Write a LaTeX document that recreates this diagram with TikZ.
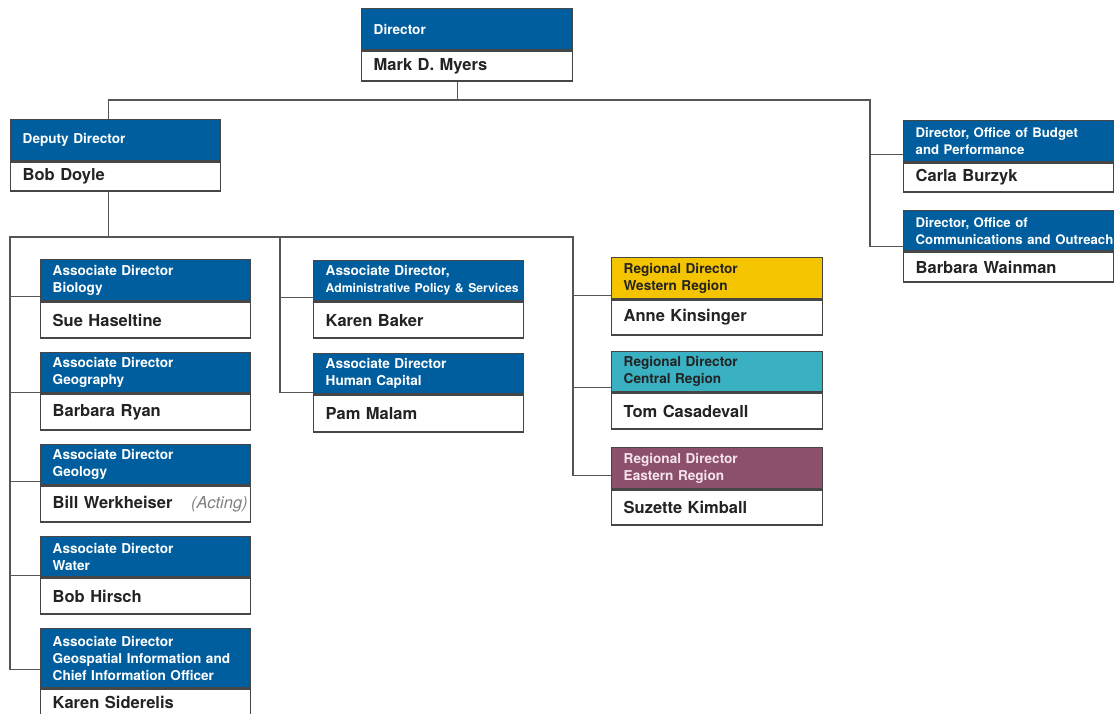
\documentclass[tikz,border=0pt]{standalone}
\usepackage{fontspec}
\setmainfont{TeX Gyre Heros}
\definecolor{uBlue}{RGB}{0,94,158}
\definecolor{uYellow}{RGB}{245,196,0}
\definecolor{uTeal}{RGB}{58,176,195}
\definecolor{uPurple}{RGB}{140,80,108}
\definecolor{boxline}{RGB}{70,70,70}
\definecolor{connline}{RGB}{85,85,85}
\definecolor{darktext}{RGB}{35,35,35}
\definecolor{pinktext}{RGB}{245,228,238}
\newcommand\hdrfont{\fontsize{13.6}{17}\selectfont\bfseries\hyphenpenalty=10000\exhyphenpenalty=10000}
\newcommand\namefont{\fontsize{16.5}{20}\selectfont\bfseries}
\newcommand\orgbox[9]{%
  \pgfmathsetmacro\obtw{#4-24}%
  \node[hdr,#7,minimum width=#4pt,minimum height=#5pt,text width=\obtw pt] (#1h) at (#2,#3) {#8};
  \node[namebox,minimum width=#4pt,minimum height=#6pt,text width=\obtw pt] (#1n) at (#1h.south west) {#9};
}
\tikzset{
  hdr/.style={anchor=north west, inner ysep=0pt, inner xsep=12pt, align=left,
    font=\hdrfont, text=white, fill=uBlue, draw=boxline, line width=1.4pt},
  hyellow/.style={fill=uYellow, text=darktext},
  hteal/.style={fill=uTeal, text=darktext},
  hpurple/.style={fill=uPurple, text=pinktext},
  hnarrow/.style={inner xsep=9pt},
  namebox/.style={anchor=north west, inner ysep=0pt, inner xsep=12pt, align=left,
    font=\namefont, text=darktext, fill=white, draw=boxline, line width=1.4pt},
  conn/.style={draw=connline, line width=1.4pt}
}
\begin{document}
\begin{tikzpicture}[x=1pt,y=-1pt]
\useasboundingbox[fill=white] (0,0) rectangle (1115,713);
% boxes
\orgbox{dir}{361}{8}{211}{41}{30}{}{Director}{Mark D. Myers}
\orgbox{dep}{10}{119}{210}{41}{29}{}{Deputy Director}{Bob Doyle}
\orgbox{bud}{903}{120}{210}{41}{29}{hnarrow}{\fontsize{13.2}{16.5}\selectfont\mbox{Director, Office of Budget}\\ \fontsize{13.2}{16.5}\selectfont and Performance}{Carla Burzyk}
\orgbox{com}{903}{210}{210}{40}{30}{hnarrow}{\fontsize{13.2}{16.5}\selectfont Director, Office of\\ \fontsize{13.2}{16.5}\selectfont\mbox{Communications and Outreach}}{Barbara Wainman}
\orgbox{bio}{40}{259}{210}{41}{36}{}{Associate Director\\Biology}{Sue Haseltine}
\orgbox{geo}{40}{352}{210}{40}{36}{}{Associate Director\\Geography}{Barbara Ryan}
\orgbox{gel}{40}{444}{210}{40}{36}{}{Associate Director\\Geology}{Bill Werkheiser\hfill{\mdseries\itshape\color{gray}(Acting)}\hspace*{-9pt}}
\orgbox{wat}{40}{536}{210}{40}{36}{}{Associate Director\\Water}{Bob Hirsch}
\orgbox{gis}{40}{628}{210}{59}{27}{}{Associate Director\\\mbox{Geospatial Information and}\\\mbox{Chief Information Officer}}{Karen Siderelis}
\orgbox{adm}{313}{260}{210}{40}{36}{}{Associate Director,\\ \fontsize{12.2}{16}\selectfont\mbox{Administrative Policy \& Services}}{Karen Baker}
\orgbox{hc}{313}{353}{210}{40}{37}{}{Associate Director\\Human Capital}{Pam Malam}
\orgbox{wes}{611}{257}{211}{41}{35}{hyellow}{Regional Director\\Western Region}{Anne Kinsinger}
\orgbox{cen}{611}{351}{211}{40}{36}{hteal}{Regional Director\\Central Region}{Tom Casadevall}
\orgbox{eas}{611}{447}{211}{41}{35}{hpurple}{Regional Director\\Eastern Region}{Suzette Kimball}
% connectors: top level
\draw[conn] ([xshift=-10pt]dirn.south) -- ++(0,18) coordinate (j1);
\draw[conn] ([xshift=-7pt]deph.north) |- (j1) -| ([xshift=-33pt,yshift=5pt]comh.south west) -- ([yshift=5pt]comh.south west);
\draw[conn] ([xshift=-33pt,yshift=8pt]budh.south west) -- ([yshift=8pt]budh.south west);
% deputy level
\draw[conn] ([xshift=-7pt]depn.south) -- ++(0,45) coordinate (j2);
\draw[conn] (j2) -| ([xshift=-30pt,yshift=19pt]gish.south west) -- ([yshift=19pt]gish.south west);
\draw[conn] (j2) -| ([xshift=-33pt,yshift=2pt]hch.south west) -- ([yshift=2pt]hch.south west);
\draw[conn] (j2) -| ([xshift=-38pt,yshift=14pt]eash.south west) -- ([yshift=14pt]eash.south west);
\draw[conn] ([xshift=-30pt,yshift=5pt]bioh.south west) -- ([yshift=5pt]bioh.south west);
\draw[conn] ([xshift=-30pt,yshift=1pt]geoh.south west) -- ([yshift=1pt]geoh.south west);
\draw[conn] ([xshift=-30pt,yshift=4pt]gelh.south west) -- ([yshift=4pt]gelh.south west);
\draw[conn] ([xshift=-30pt,yshift=2pt]wath.south west) -- ([yshift=2pt]wath.south west);
\draw[conn] ([xshift=-33pt,yshift=4pt]admh.south west) -- ([yshift=4pt]admh.south west);
\draw[conn] ([xshift=-38pt,yshift=4pt]wesh.south west) -- ([yshift=4pt]wesh.south west);
\draw[conn] ([xshift=-38pt,yshift=5pt]cenh.south west) -- ([yshift=5pt]cenh.south west);
\end{tikzpicture}
\end{document}
